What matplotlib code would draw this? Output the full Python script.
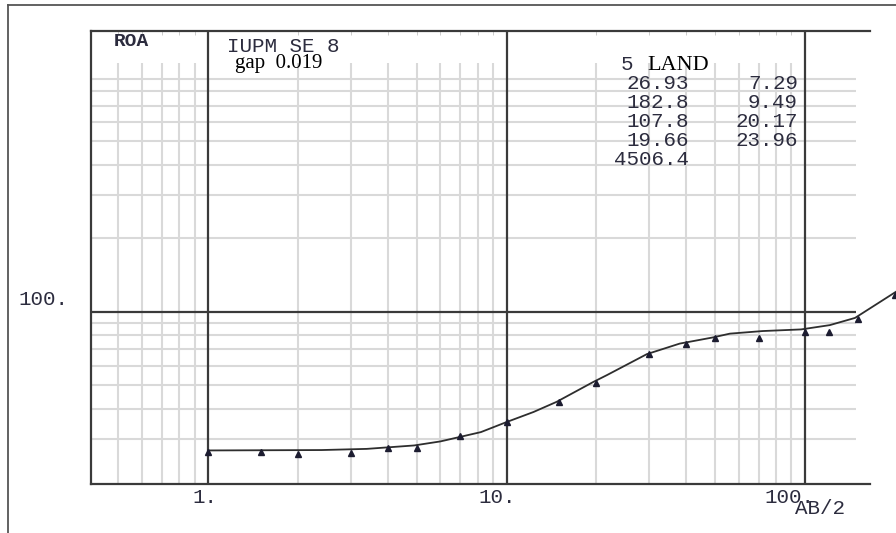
import matplotlib
matplotlib.use('Agg')
import matplotlib.pyplot as plt
from matplotlib.lines import Line2D

# measured apparent resistivity vs AB/2
ab2 = [1, 1.5, 2, 3, 4, 5, 7, 10, 15, 20, 30, 40, 50, 70, 100, 120, 150, 200]
roa = [26.7, 26.7, 26.0, 26.4, 27.5, 27.5, 30.8, 35.4, 42.5, 51.2, 67.1,
       73.7, 78.2, 78.2, 82.8, 82.5, 93.3, 117]

# fitted model curve
curve_ab = [1, 2.4, 3.4, 4.9, 6, 7, 8.2, 10, 12.3, 14.7, 19.5, 21.7, 29.5,
            38, 49, 56, 72, 97, 121, 147, 198, 215]
curve_rho = [27.0, 27.1, 27.4, 28.3, 29.4, 30.7, 32.1, 35.3, 38.8, 42.7, 51.5,
             55.0, 67.0, 74.0, 78.4, 81.3, 83.3, 84.6, 88.1, 94.3, 119, 127]

# layer model: resistivities and thicknesses
layer_rho = ['26.93', '182.8', '107.8', '19.66', '4506.4']
layer_h = ['7.29', '9.49', '20.17', '23.96']
gap = '0.019'

x_ticks = [1, 10, 100]
x_labels = ['1.', '10.', '100.']

W, H = 896, 533
mono = 'Liberation Mono'
serif = 'Liberation Serif'
tc = '#2c2c3e'
dark = '#3a3a3a'
light = '#d9d9d9'
fs = 15


def fx(px):
    return px / W


def fy(py):
    return 1 - py / H


def mtext(x, y, s, **kw):
    # plotter-style monospace label, placed in pixel coordinates
    fig.text(fx(x), fy(y), s, family=mono, size=kw.pop('size', fs),
             weight=kw.pop('weight', 'normal'), color=tc, va='baseline', **kw)


fig = plt.figure(figsize=(W / 100, H / 100), dpi=100)
ax = fig.add_axes([fx(91), fy(484), (870 - 91) / W, (484 - 31) / H])
ax.set_xscale('log')
ax.set_yscale('log')
x0, x1 = 0.405, 165
y0, y1 = 19.67, 1414
ax.set_xlim(x0, x1)
ax.set_ylim(y0, y1)

minor_x = [m * 10.0 ** k for k in (-1, 0, 1) for m in range(2, 10)
           if x0 < m * 10.0 ** k < x1]
minor_y = [m * 10 for m in range(3, 10)] + [m * 100 for m in range(2, 10)]
grid_end = 148

ax.vlines(minor_x, y0, 1050, colors=light, lw=1.5, zorder=1)
ax.hlines(minor_y, x0, grid_end, colors=light, lw=1.5, zorder=1)
ax.vlines(x_ticks, y0, y1, colors=dark, lw=1.6, zorder=2)
ax.hlines(100, x0, grid_end, colors=dark, lw=1.6, zorder=2)

for side in ('left', 'top', 'bottom'):
    ax.spines[side].set_color(dark)
    ax.spines[side].set_linewidth(1.6)
ax.spines['right'].set_visible(False)

ax.set_xticks([])
ax.set_xticks(minor_x, minor=True)
ax.set_yticks([])
ax.set_yticks([], minor=True)
ax.tick_params(axis='x', which='minor', top=True, bottom=False, direction='in',
               length=3, color='#c4c4c4', labeltop=False, labelbottom=False)

ax.plot(curve_ab, curve_rho, color='#2e2e2e', lw=1.3, clip_on=False, zorder=4)
ax.plot(ab2, roa, ls='none', marker='^', ms=4.5, color='#1c1c30',
        clip_on=False, zorder=5)

# axis labels
for xt, lab in zip(x_ticks, x_labels):
    ax.annotate(lab, xy=(xt, y0), xytext=(7, -14), textcoords='offset points',
                ha='right', va='baseline', family=mono, size=fs,
                color=tc, annotation_clip=False)
ax.annotate('100.', xy=(x0, 100), xytext=(-16, 5), textcoords='offset points',
            ha='right', va='baseline', family=mono, size=fs,
            color=tc, annotation_clip=False)
mtext(795, 514, 'AB/2')

# header block
mtext(114, 46, 'ROA', size=14, weight='bold')
mtext(227, 52, 'IUPM SE 8')
fig.text(fx(235), fy(68), 'gap  ' + gap, family=serif, size=15,
         color='black', va='baseline')
mtext(621, 70, '5')
fig.text(fx(647), fy(70), 'LAND', family=serif, size=16, color='black',
         va='baseline')

rows = [89, 108, 127, 146, 165]
for i, r in enumerate(layer_rho):
    mtext(689, rows[i], r, ha='right')
for i, h in enumerate(layer_h):
    mtext(798, rows[i], h, ha='right')

# outer frame of the plot sheet
fig.add_artist(Line2D([fx(8), fx(8)], [0, fy(5)], transform=fig.transFigure,
                      color='#555555', lw=1.3))
fig.add_artist(Line2D([fx(8), 1], [fy(5), fy(5)], transform=fig.transFigure,
                      color='#555555', lw=1.3))

fig.savefig('out.png', dpi=100)
